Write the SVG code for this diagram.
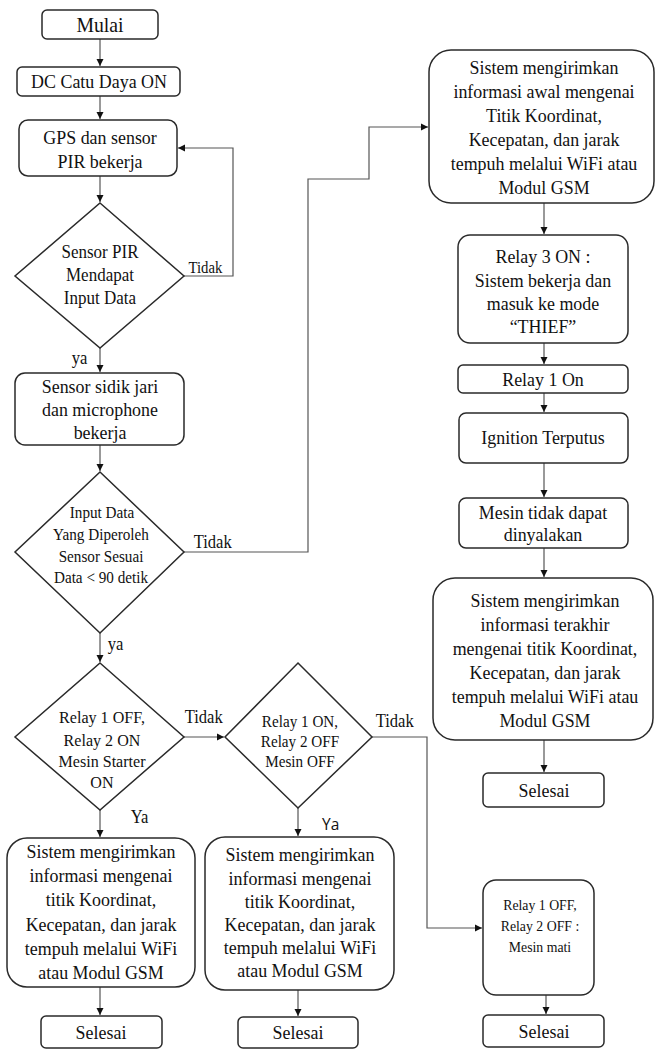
<svg xmlns="http://www.w3.org/2000/svg" width="655" height="1050" viewBox="0 0 655 1050">
<style>
.b{fill:#fff;stroke:#2a2a2a;stroke-width:1.5}
.c{fill:none;stroke:#555;stroke-width:1.2}
text{font-family:"Liberation Serif","Times New Roman",serif;fill:#111;text-anchor:middle;transform-box:fill-box;transform-origin:center;transform:scaleX(0.92)}
.t18{font-size:19.5px}
.t16{font-size:17.5px}
.t15{font-size:16.5px}
.t14{font-size:15px}
.lab{font-size:18px;text-anchor:start}
.sans{font-family:"Open Sans","Noto Sans",sans-serif;font-size:15.5px;text-anchor:start;transform:none}
</style>
<defs>
<marker id="ah" markerWidth="8" markerHeight="8" refX="7" refY="4" orient="auto" markerUnits="userSpaceOnUse">
<path d="M0,0.5 L7,4 L0,7.5 Z" fill="#111"/>
</marker>
</defs>
<rect width="655" height="1050" fill="#fff"/>

<g id="connectors">
<path class="c" d="M100,39 V66" marker-end="url(#ah)"/>
<path class="c" d="M100,96 V119" marker-end="url(#ah)"/>
<path class="c" d="M100,176 V202" marker-end="url(#ah)"/>
<path class="c" d="M184,276 H233 V148 H178" marker-end="url(#ah)"/>
<path class="c" d="M100,348 V372" marker-end="url(#ah)"/>
<path class="c" d="M100,445 V471" marker-end="url(#ah)"/>
<path class="c" d="M184,552 H308 V179 H369 V127 H428" marker-end="url(#ah)"/>
<path class="c" d="M544,203 V234" marker-end="url(#ah)"/>
<path class="c" d="M544,343 V364" marker-end="url(#ah)"/>
<path class="c" d="M544,393 V412" marker-end="url(#ah)"/>
<path class="c" d="M544,463 V497" marker-end="url(#ah)"/>
<path class="c" d="M544,548 V577" marker-end="url(#ah)"/>
<path class="c" d="M544,740 V772" marker-end="url(#ah)"/>
<path class="c" d="M100,633 V662" marker-end="url(#ah)"/>
<path class="c" d="M184,737 H224" marker-end="url(#ah)"/>
<path class="c" d="M372,737 H427 V928 H482" marker-end="url(#ah)"/>
<path class="c" d="M100,810 V837" marker-end="url(#ah)"/>
<path class="c" d="M298,808 V836" marker-end="url(#ah)"/>
<path class="c" d="M100,987 V1015" marker-end="url(#ah)"/>
<path class="c" d="M298,990 V1016" marker-end="url(#ah)"/>
<path class="c" d="M546,995 V1014" marker-end="url(#ah)"/>
<text class="lab" x="187" y="273" style="font-size:16px">Tidak</text>
<text class="lab" x="71" y="364">ya</text>
<text class="lab" x="192" y="548">Tidak</text>
<text class="lab" x="107" y="650">ya</text>
<text class="lab" x="183" y="723">Tidak</text>
<text class="lab" x="130" y="823">Ya</text>
<text class="lab" x="374" y="727">Tidak</text>
<text class="sans" x="322" y="830">Ya</text>
</g>

<g id="mulai">
<rect class="b" x="42" y="10" width="116" height="29" rx="5"/>
<text x="100" y="32" style="font-size:21.5px">Mulai</text>
</g>
<g id="dc">
<rect class="b" x="17" y="67" width="163" height="29" rx="5"/>
<text class="t18" x="99" y="88">DC Catu Daya ON</text>
</g>
<g id="gps">
<rect class="b" x="19" y="120" width="158" height="56" rx="9"/>
<text class="t18" x="100" y="144">GPS dan sensor</text>
<text class="t18" x="100" y="168">PIR bekerja</text>
</g>
<g id="pir">
<polygon class="b" points="100,203 184,276 100,348 15,276"/>
<text x="100" y="258" style="font-size:18.5px">Sensor PIR</text>
<text x="100" y="281" style="font-size:18.5px">Mendapat</text>
<text x="100" y="304" style="font-size:18.5px">Input Data</text>
</g>
<g id="sidik">
<rect class="b" x="15" y="373" width="169" height="72" rx="10"/>
<text class="t18" x="100" y="393">Sensor sidik jari</text>
<text class="t18" x="100" y="416">dan microphone</text>
<text class="t18" x="100" y="439">bekerja</text>
</g>
<g id="input">
<polygon class="b" points="100,472 184,552 100,633 15,552"/>
<text class="t15" x="102" y="518">Input Data</text>
<text class="t15" x="101" y="540">Yang Diperoleh</text>
<text class="t15" x="101" y="562">Sensor Sesuai</text>
<text class="t15" x="101" y="583">Data &lt; 90 detik</text>
</g>
<g id="awal">
<rect class="b" x="429" y="50" width="225" height="153" rx="22"/>
<text class="t18" x="544" y="74">Sistem mengirimkan</text>
<text class="t18" x="544" y="98">informasi awal mengenai</text>
<text class="t18" x="544" y="122">Titik Koordinat,</text>
<text class="t18" x="544" y="146">Kecepatan, dan jarak</text>
<text class="t18" x="544" y="170">tempuh melalui WiFi atau</text>
<text class="t18" x="544" y="194">Modul GSM</text>
</g>
<g id="relay3">
<rect class="b" x="458" y="235" width="170" height="108" rx="12"/>
<text class="t18" x="543" y="263">Relay 3 ON :</text>
<text class="t18" x="543" y="287">Sistem bekerja dan</text>
<text class="t18" x="543" y="310">masuk ke mode</text>
<text class="t18" x="543" y="333">“THIEF”</text>
</g>
<g id="relay1on">
<rect class="b" x="458" y="365" width="170" height="28" rx="5"/>
<text class="t18" x="543" y="386">Relay 1 On</text>
</g>
<g id="ignition">
<rect class="b" x="459" y="413" width="169" height="50" rx="7"/>
<text class="t18" x="543" y="444">Ignition Terputus</text>
</g>
<g id="mesintidak">
<rect class="b" x="459" y="498" width="169" height="50" rx="7"/>
<text class="t18" x="543" y="519">Mesin tidak dapat</text>
<text class="t18" x="543" y="541">dinyalakan</text>
</g>
<g id="akhir">
<rect class="b" x="433" y="578" width="220" height="162" rx="22"/>
<text class="t18" x="545" y="607">Sistem mengirimkan</text>
<text class="t18" x="545" y="631">informasi terakhir</text>
<text class="t18" x="545" y="655">mengenai titik Koordinat,</text>
<text class="t18" x="545" y="679">Kecepatan, dan jarak</text>
<text class="t18" x="545" y="703">tempuh melalui WiFi atau</text>
<text class="t18" x="545" y="727">Modul GSM</text>
</g>
<g id="selesai-kanan">
<rect class="b" x="483" y="773" width="121" height="34" rx="5"/>
<text class="t18" x="544" y="797">Selesai</text>
</g>
<g id="relay-off-on">
<polygon class="b" points="100,663 184,737 100,810 15,737"/>
<text class="t16" x="102" y="723">Relay 1 OFF,</text>
<text class="t16" x="102" y="746">Relay 2 ON</text>
<text class="t16" x="102" y="767">Mesin Starter</text>
<text class="t16" x="102" y="788">ON</text>
</g>
<g id="relay-on-off">
<polygon class="b" points="298,663 372,737 298,808 225,737"/>
<text class="t15" x="300" y="727">Relay 1 ON,</text>
<text class="t15" x="300" y="747">Relay 2 OFF</text>
<text class="t15" x="300" y="767">Mesin OFF</text>
</g>
<g id="kirim-kiri">
<rect class="b" x="7" y="838" width="188" height="149" rx="20"/>
<text class="t18" x="101" y="858">Sistem mengirimkan</text>
<text class="t18" x="101" y="882">informasi mengenai</text>
<text class="t18" x="101" y="906">titik Koordinat,</text>
<text class="t18" x="101" y="931">Kecepatan, dan jarak</text>
<text class="t18" x="101" y="955">tempuh melalui WiFi</text>
<text class="t18" x="101" y="979">atau Modul GSM</text>
</g>
<g id="kirim-tengah">
<rect class="b" x="205" y="837" width="189" height="153" rx="20"/>
<text class="t18" x="300" y="861">Sistem mengirimkan</text>
<text class="t18" x="300" y="885">informasi mengenai</text>
<text class="t18" x="300" y="908">titik Koordinat,</text>
<text class="t18" x="300" y="931">Kecepatan, dan jarak</text>
<text class="t18" x="300" y="954">tempuh melalui WiFi</text>
<text class="t18" x="300" y="977">atau Modul GSM</text>
</g>
<g id="mesin-mati">
<rect class="b" x="483" y="880" width="111" height="115" rx="13"/>
<text class="t14" x="540" y="910">Relay 1 OFF,</text>
<text class="t14" x="540" y="931">Relay 2 OFF :</text>
<text class="t14" x="540" y="952">Mesin mati</text>
</g>
<g id="selesai-kiri">
<rect class="b" x="41" y="1016" width="121" height="32" rx="5"/>
<text class="t18" x="101" y="1039">Selesai</text>
</g>
<g id="selesai-tengah">
<rect class="b" x="238" y="1017" width="120" height="31" rx="5"/>
<text class="t18" x="298" y="1039">Selesai</text>
</g>
<g id="selesai-bawah">
<rect class="b" x="483" y="1015" width="121" height="32" rx="5"/>
<text class="t18" x="544" y="1038">Selesai</text>
</g>
</svg>
